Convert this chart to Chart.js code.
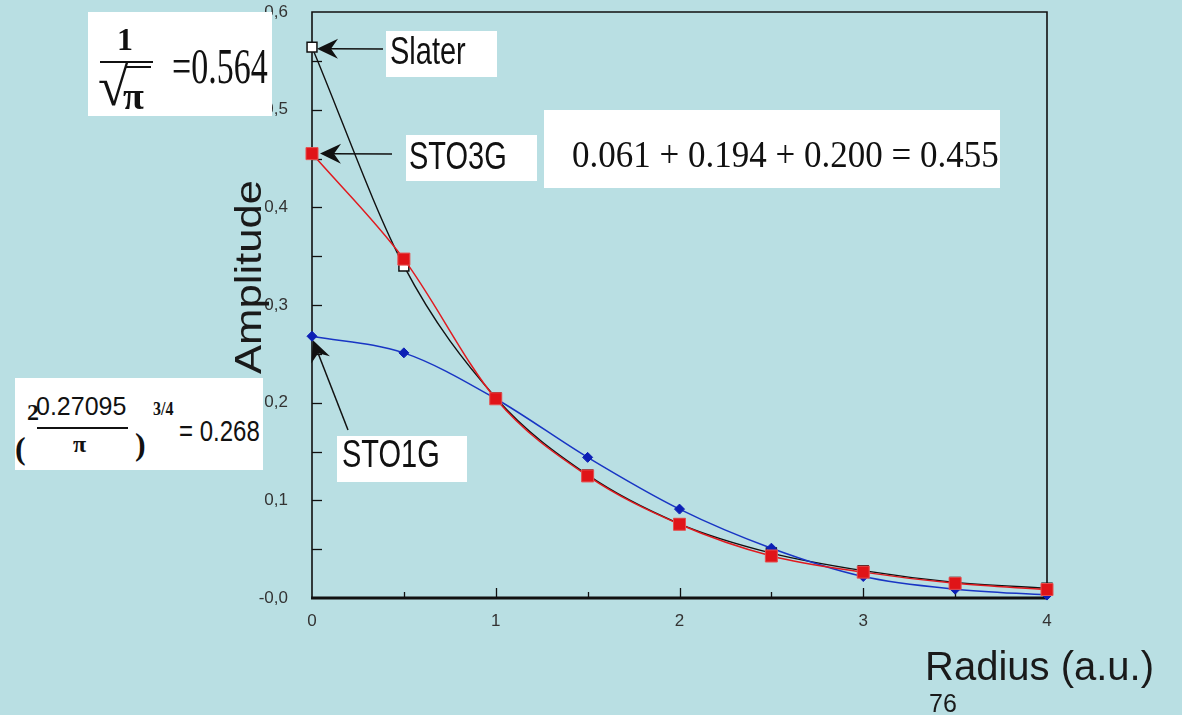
<!DOCTYPE html>
<html>
<head>
<meta charset="utf-8">
<title>Slater vs STO-nG</title>
<script src="https://cdn.jsdelivr.net/npm/chart.js@4.4.1/dist/chart.umd.min.js"></script>
<style>
  html, body { margin: 0; padding: 0; background: #b9dfe3; overflow: hidden; }
  #wrap { position: relative; width: 1182px; height: 715px; }
  #wrap canvas { position: absolute; left: 0; top: 0; }
  .box { position: absolute; background: #fff; }
  .t { position: absolute; white-space: nowrap; line-height: 1; transform-origin: 0 0; color: #111; }
  .sans { font-family: "Liberation Sans", Arial, sans-serif; }
  .serif { font-family: "Liberation Serif", "Times New Roman", serif; }
  .b { font-weight: bold; }
  .rule { position: absolute; background: #111; }
</style>
</head>
<body>
<div id="wrap">
  <canvas id="orbitalChart" width="1182" height="715"></canvas>

  <!-- 1/sqrt(pi) box -->
  <div class="box" style="left:88px; top:12px; width:184px; height:104px;"></div>
  <span class="t serif b" style="left:117px; top:23px; font-size:32px;">1</span>
  <div class="rule" style="left:100px; top:61px; width:53px; height:2px;"></div>
  <span class="t serif" style="left:98px; top:58px; font-size:56px;">√</span>
  <div class="rule" style="left:125px; top:66px; width:26px; height:2px;"></div>
  <span class="t serif b" style="left:123px; top:77px; font-size:38px;">π</span>
  <span class="t serif" style="left:172px; top:40px; font-size:34px; transform:scaleY(1.52);">=0.564</span>

  <!-- labels -->
  <div class="box" style="left:386px; top:31px; width:111px; height:46px;"></div>
  <span class="t sans" style="left:390px; top:32px; font-size:29px; transform:scaleY(1.33);">Slater</span>

  <div class="box" style="left:406px; top:135px; width:131px; height:46px;"></div>
  <span class="t sans" style="left:409px; top:137px; font-size:29px; transform:scaleY(1.33);">STO3G</span>

  <div class="box" style="left:337px; top:436px; width:130px; height:46px;"></div>
  <span class="t sans" style="left:342px; top:435px; font-size:29px; transform:scaleY(1.33);">STO1G</span>

  <!-- sum box -->
  <div class="box" style="left:544px; top:110px; width:456px; height:78px;"></div>
  <span class="t serif" style="left:572px; top:136px; font-size:35px; transform:scaleY(1.06);">0.061 + 0.194 + 0.200 = 0.455</span>

  <!-- gaussian normalisation box -->
  <div class="box" style="left:15px; top:378px; width:248px; height:92px;"></div>
  <span class="t serif b" style="left:15px; top:432px; font-size:32px;">(</span>
  <span class="t serif b" style="left:27px; top:400px; font-size:24px;">2</span>
  <span class="t sans" style="left:36px; top:394px; font-size:25px;">0.27095</span>
  <div class="rule" style="left:37px; top:427px; width:91px; height:1.5px;"></div>
  <span class="t serif b" style="left:73px; top:432px; font-size:24px;">π</span>
  <span class="t serif b" style="left:135px; top:428px; font-size:32px;">)</span>
  <span class="t serif b" style="left:153px; top:399px; font-size:16px; transform:scaleY(1.2);">3/4</span>
  <span class="t sans" style="left:179px; top:417px; font-size:24px; transform:scaleY(1.2);">= 0.268</span>
</div>

<script>
// radius grid (a.u.)
const radius = [0, 0.5, 1, 1.5, 2, 2.5, 3, 3.5, 4];

// amplitudes
const slater = [0.564, 0.340, 0.205, 0.126, 0.076, 0.046, 0.028, 0.016, 0.010];
const sto3g  = [0.455, 0.347, 0.204, 0.125, 0.0755, 0.043, 0.0265, 0.015, 0.0087];
const sto1g  = [0.268, 0.251, 0.204, 0.144, 0.091, 0.051, 0.022, 0.009, 0.003];

// tick labels
const xTickLabels = ["0", "1", "2", "3", "4"];
const yTickLabels = ["-0,0", "0,1", "0,2", "0,3", "0,4", "0,5", "0,6"];
const xTickMarks = [0.5, 1, 1.5, 2, 2.5, 3, 3.5];
const yTickMarks = [0.05, 0.1, 0.15, 0.2, 0.25, 0.3, 0.35, 0.4, 0.45, 0.5, 0.55];

const INK = "#111";
const TICK = "#333";

function toPoints(vals) {
  return radius.map((r, i) => ({ x: r, y: vals[i] }));
}

//arrows from the labels to the r=0 points
const arrows = [
  { vals: slater, dx: 5, dy: 1.5, tailX: 383, tailY: 49 },
  { vals: sto3g, dx: 8, dy: 0, tailX: 392, tailY: 154 },
  { vals: sto1g, dx: 1, dy: 4, tailX: 348, tailY: 430 }
];

function drawArrow(ctx, tx, ty, sx, sy) {
  const ang = Math.atan2(ty - sy, tx - sx);
  const ux = Math.cos(ang), uy = Math.sin(ang);
  const nx = -uy, ny = ux;
  const L = 21, W = 10, notch = 7;
  ctx.beginPath();
  ctx.moveTo(tx, ty);
  ctx.lineTo(tx - L * ux + W * nx, ty - L * uy + W * ny);
  ctx.lineTo(tx - (L - notch) * ux, ty - (L - notch) * uy);
  ctx.lineTo(tx - L * ux - W * nx, ty - L * uy - W * ny);
  ctx.closePath();
  ctx.fill();
  ctx.beginPath();
  ctx.moveTo(tx - (L - notch) * ux, ty - (L - notch) * uy);
  ctx.lineTo(sx, sy);
  ctx.stroke();
}

const framePlugin = {
  id: "frame",
  beforeDatasetsDraw(chart) {
    const { ctx, chartArea: a, scales: { x, y } } = chart;
    ctx.save();
    ctx.strokeStyle = INK;
    ctx.lineWidth = 1.6;
    ctx.beginPath();
    ctx.moveTo(a.left, a.bottom);
    ctx.lineTo(a.left, a.top);
    ctx.lineTo(a.right, a.top);
    ctx.lineTo(a.right, a.bottom);
    ctx.stroke();
    ctx.lineWidth = 3;
    ctx.beginPath();
    ctx.moveTo(a.left - 1, a.bottom);
    ctx.lineTo(a.right + 1, a.bottom);
    ctx.stroke();

    //inward tick marks
    ctx.lineWidth = 1.3;
    yTickMarks.forEach(v => {
      const py = Math.round(y.getPixelForValue(v)) + 0.5;
      ctx.beginPath();
      ctx.moveTo(a.left, py);
      ctx.lineTo(a.left + 10, py);
      ctx.stroke();
    });
    xTickMarks.forEach(v => {
      const px = Math.round(x.getPixelForValue(v)) + 0.5;
      const len = Number.isInteger(v) ? 10 : 6;
      ctx.beginPath();
      ctx.moveTo(px, a.bottom);
      ctx.lineTo(px, a.bottom - len);
      ctx.stroke();
    });
    ctx.restore();
  },
  afterDatasetsDraw(chart) {
    const { ctx, scales: { x, y } } = chart;
    ctx.save();
    ctx.fillStyle = INK;
    ctx.strokeStyle = INK;
    ctx.lineWidth = 1.5;
    arrows.forEach(ar => {
      const tx = x.getPixelForValue(radius[0]) + ar.dx;
      const ty = y.getPixelForValue(ar.vals[0]) + ar.dy;
      drawArrow(ctx, tx, ty, ar.tailX, ar.tailY);
    });
    ctx.restore();
  },
  afterDraw(chart) {
    const { ctx } = chart;
    ctx.save();
    ctx.fillStyle = "#1a1a1a";
    //y axis title
    ctx.translate(261, 277);
    ctx.rotate(-Math.PI / 2);
    ctx.scale(1.18, 1);
    ctx.font = '37px "Liberation Sans", Arial, sans-serif';
    ctx.textAlign = "center";
    ctx.textBaseline = "alphabetic";
    ctx.fillText("Amplitude", 0, 0);
    ctx.restore();

    ctx.save();
    ctx.fillStyle = "#1a1a1a";
    ctx.textAlign = "left";
    ctx.font = '40px "Liberation Sans", Arial, sans-serif';
    ctx.fillText("Radius (a.u.)", 925, 680);
    ctx.font = '25px "Liberation Sans", Arial, sans-serif';
    ctx.fillText("76", 929, 712);
    ctx.restore();
  }
};

const ctx = document.getElementById("orbitalChart").getContext("2d");
const orbitalChart = new Chart(ctx, {
  type: "line",
  data: {
    datasets: [
      {
        label: "STO3G",
        data: toPoints(sto3g),
        borderColor: "#e01a1f",
        borderWidth: 1.5,
        pointStyle: "rect",
        pointRadius: 8.5,
        pointBackgroundColor: "#e01418",
        pointBorderColor: "#e65050",
        pointBorderWidth: 1,
        cubicInterpolationMode: "monotone",
        clip: false,
        order: 1
      },
      {
        label: "STO1G",
        data: toPoints(sto1g),
        borderColor: "#1835c4",
        borderWidth: 1.5,
        pointStyle: "rectRot",
        pointRadius: 5,
        pointBackgroundColor: "#0c1fb5",
        pointBorderColor: "#0c1fb5",
        pointBorderWidth: 1,
        cubicInterpolationMode: "monotone",
        clip: false,
        order: 2
      },
      {
        label: "Slater",
        data: toPoints(slater),
        borderColor: INK,
        borderWidth: 1.4,
        pointStyle: "rect",
        pointRadius: 7,
        pointBackgroundColor: "#fff",
        pointBorderColor: INK,
        pointBorderWidth: 1.5,
        cubicInterpolationMode: "monotone",
        clip: false,
        order: 3
      }
    ]
  },
  options: {
    responsive: false,
    animation: false,
    layout: { padding: { top: 12, right: 135, left: 0, bottom: 0 } },
    plugins: {
      legend: { display: false },
      tooltip: { enabled: false }
    },
    scales: {
      x: {
        type: "linear",
        min: 0,
        max: 4,
        afterFit: s => {
          s.height = 117;
          s.paddingLeft = 0;
          s.paddingRight = 0;
        },
        grid: { display: false, drawTicks: false },
        border: { display: false },
        ticks: {
          stepSize: 1,
          padding: 13,
          color: TICK,
          font: { family: '"Liberation Sans", Arial, sans-serif', size: 17 },
          callback: (v, i) => xTickLabels[i]
        }
      },
      y: {
        min: 0,
        max: 0.6,
        afterFit: s => {
          s.width = 312;
          s.paddingTop = 0;
          s.paddingBottom = 0;
        },
        grid: { display: false, drawTicks: false },
        border: { display: false },
        ticks: {
          stepSize: 0.1,
          padding: 24,
          color: TICK,
          font: { family: '"Liberation Sans", Arial, sans-serif', size: 17 },
          callback: (v, i) => yTickLabels[i]
        }
      }
    }
  },
  plugins: [framePlugin]
});
</script>
</body>
</html>
